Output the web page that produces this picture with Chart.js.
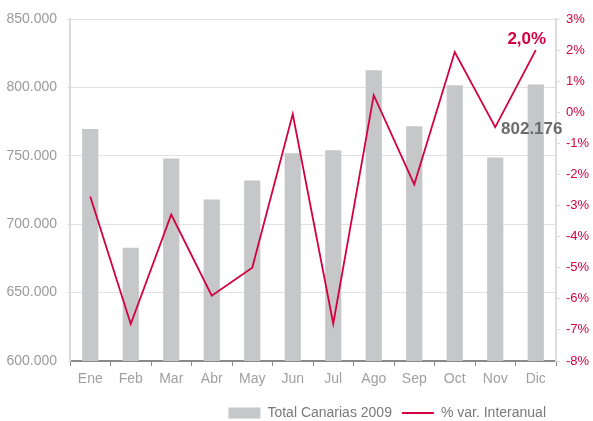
<!DOCTYPE html>
<html>
<head>
<meta charset="utf-8">
<script src="https://cdn.jsdelivr.net/npm/chart.js@4"></script>
<style>
  html, body { margin: 0; padding: 0; background: #fff; }
  #wrap { width: 593px; height: 421px; position: relative; }
</style>
</head>
<body>
<div id="wrap"><canvas id="c"></canvas></div>
<script>
const months = ['Ene', 'Feb', 'Mar', 'Abr', 'May', 'Jun', 'Jul', 'Ago', 'Sep', 'Oct', 'Nov', 'Dic'];
const totalCanarias = [769500, 682800, 748100, 718000, 732000, 751800, 754000, 812600, 771600, 801600, 748800, 802176];
const varInteranual = [-2.71, -6.81, -3.29, -5.9, -5.0, -0.06, -6.8, 0.55, -2.32, 1.94, -0.48, 2.0];

const GREY_BAR = '#c6c7c9';
const CRIMSON = '#d4003f';

Chart.defaults.font.family = "'Liberation Sans', Arial, sans-serif";
Chart.defaults.font.size = 13;

function miles(v) {
  return String(Math.round(v)).replace(/\B(?=(\d{3})+(?!\d))/g, '.');
}

// last-value labels: "2,0%" over the line end, "802.176" beside the last bar
const endLabels = {
  id: 'endLabels',
  afterDatasetsDraw(chart) {
    const ctx = chart.ctx;
    const last = months.length - 1;
    const bar = chart.getDatasetMeta(0).data[last];
    const pt = chart.getDatasetMeta(1).data[last];
    ctx.save();
    ctx.font = "bold 17px 'Liberation Sans', Arial, sans-serif";
    ctx.textAlign = 'center';
    ctx.textBaseline = 'middle';
    ctx.fillStyle = CRIMSON;
    ctx.fillText(varInteranual[last].toFixed(1).replace('.', ',') + '%', pt.x - 9, pt.y - 11);
    ctx.fillStyle = '#6b6b6b';
    ctx.fillText(miles(totalCanarias[last]), bar.x - 4, bar.y + 45);
    ctx.restore();
  }
};

new Chart(document.getElementById('c'), {
  type: 'bar',
  data: {
    labels: months,
    datasets: [
      {
        label: 'Total Canarias 2009',
        data: totalCanarias,
        backgroundColor: GREY_BAR,
        borderWidth: 0,
        barPercentage: 0.4,
        categoryPercentage: 1,
        yAxisID: 'y',
        order: 2,
        pointStyle: 'rect'
      },
      {
        type: 'line',
        label: '% var. Interanual',
        data: varInteranual,
        borderColor: CRIMSON,
        backgroundColor: CRIMSON,
        borderWidth: 1.8,
        pointRadius: 0,
        tension: 0,
        yAxisID: 'y1',
        order: 1,
        pointStyle: 'line'
      }
    ]
  },
  options: {
    responsive: true,
    maintainAspectRatio: false,
    animation: false,
    layout: { padding: { top: 19, left: 0, right: 0, bottom: -9 } },
    plugins: {
      legend: {
        position: 'bottom',
        align: 'end',
        fullSize: false,
        labels: {
          color: '#7a7a7a',
          usePointStyle: true,
          pointStyleWidth: 32,
          boxWidth: 32,
          boxHeight: 11,
          padding: 10,
          font: { size: 14 },
          sort: (a, b) => a.datasetIndex - b.datasetIndex
        }
      },
      tooltip: { enabled: false }
    },
    scales: {
      x: {
        grid: { display: true, drawOnChartArea: false, color: '#8a8a8a', tickLength: 5, offset: true },
        border: { color: '#8a8a8a', width: 2 },
        ticks: { color: '#a0a0a0', padding: 5, font: { size: 14 } },
        afterFit(s) { s.height = 35; }
      },
      y: {
        position: 'left',
        min: 600000,
        max: 850000,
        ticks: { stepSize: 50000, color: '#9a9a9a', padding: 10, font: { size: 14 }, callback: v => miles(v) },
        grid: { color: '#e2e2e2', tickLength: 3 },
        border: { color: '#dcdcdc', width: 2 },
        afterFit(s) { s.width = 70; }
      },
      y1: {
        position: 'right',
        min: -8,
        max: 3,
        ticks: { stepSize: 1, color: CRIMSON, padding: 6, font: { size: 13 }, callback: v => v + '%' },
        grid: { drawOnChartArea: false, color: '#dcdcdc', tickLength: 4 },
        border: { color: '#dcdcdc', width: 2 },
        afterFit(s) { s.width = 37; }
      }
    }
  },
  plugins: [endLabels]
});
</script>
</body>
</html>
